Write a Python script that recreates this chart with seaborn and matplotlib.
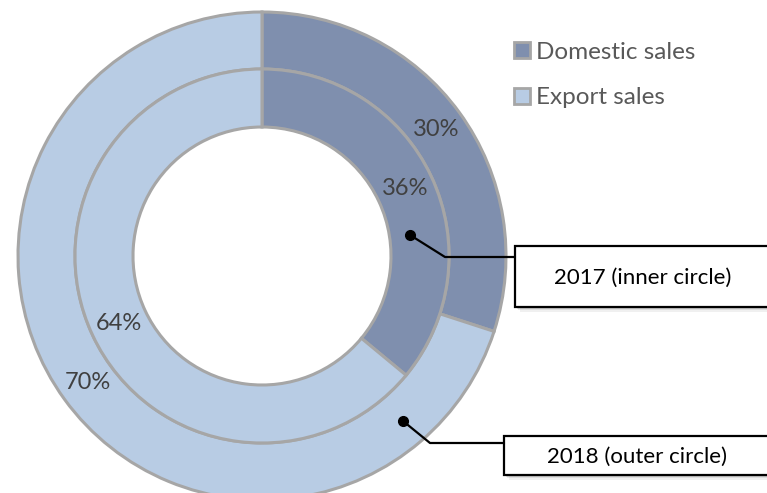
import matplotlib.pyplot as plt
import seaborn as sns
from matplotlib.lines import Line2D
from matplotlib.patches import Rectangle

# data
categories = ['Domestic sales', 'Export sales']
share_2017 = [36, 64]   # inner circle
share_2018 = [30, 70]   # outer circle
ring_labels = ['2017 (inner circle)', '2018 (outer circle)']
colors = ['#7F8FAE', '#B8CCE4']

sns.set_theme(style='white')
plt.rcParams['font.family'] = ['Lato', 'DejaVu Sans']

W, H = 767, 493
fig = plt.figure(figsize=(W / 100, H / 100), dpi=100)
ax = fig.add_axes([0, 0, 1, 1])


def px(x, y):
    # pixel position (from top-left) -> data coords
    return x, H - y


cx, cy = px(262, 256)
edge = dict(edgecolor='#A6A6A6', linewidth=2.2)

ax.pie(share_2018, colors=colors, radius=244, center=(cx, cy),
       startangle=90, counterclock=False,
       wedgeprops=dict(width=57, **edge),
       autopct='%d%%', pctdistance=215.5 / 244,
       textprops=dict(color='#404040', fontsize=17))
ax.pie(share_2017, colors=colors, radius=187, center=(cx, cy),
       startangle=90, counterclock=False,
       wedgeprops=dict(width=58, **edge),
       autopct='%d%%', pctdistance=158 / 187,
       textprops=dict(color='#404040', fontsize=17))

ax.set_xlim(0, W)
ax.set_ylim(0, H)
ax.set_aspect('equal')
ax.axis('off')

# legend
handles = [Line2D([], [], linestyle='none', marker='s', markersize=12,
                  markerfacecolor=c, markeredgecolor='#A6A6A6',
                  markeredgewidth=2) for c in colors]
ax.legend(handles, categories, loc='upper left', bbox_to_anchor=(489 / W, 1 - 20 / H),
          frameon=False, fontsize=17.5, labelcolor='#595959',
          handletextpad=0.15, handlelength=0.9, labelspacing=1.0)

# callout boxes with leader lines
callouts = [
    # dot, bend, box left, box top, box bottom
    ((410, 235), (445, 257), 515, 246, 307),
    ((403, 421), (430, 443), 504, 436, 475),
]
for text, (dot, bend, left, top, bottom) in zip(ring_labels, callouts):
    # soft shadow
    for k, a in [(5, 0.06), (3, 0.08), (1.5, 0.1)]:
        ax.add_patch(Rectangle(px(left + k, bottom + k), 400, bottom - top,
                               facecolor='black', edgecolor='none', alpha=a, zorder=4))
    ax.add_patch(Rectangle(px(left, bottom), 400, bottom - top,
                           facecolor='white', edgecolor='black', linewidth=1.6, zorder=5))
    xs, ys = zip(px(*dot), px(*bend), px(left, bend[1]))
    ax.plot(xs, ys, color='black', linewidth=1.6, zorder=6, solid_capstyle='round')
    ax.plot(*px(*dot), marker='o', markersize=7, color='black', zorder=7)
    tx, ty = px((left + 766) / 2 + 2, (top + bottom) / 2 + 1)
    ax.text(tx, ty, text, ha='center', va='center', fontsize=16,
            color='black', zorder=8)

fig.savefig('out.png', dpi=100)
